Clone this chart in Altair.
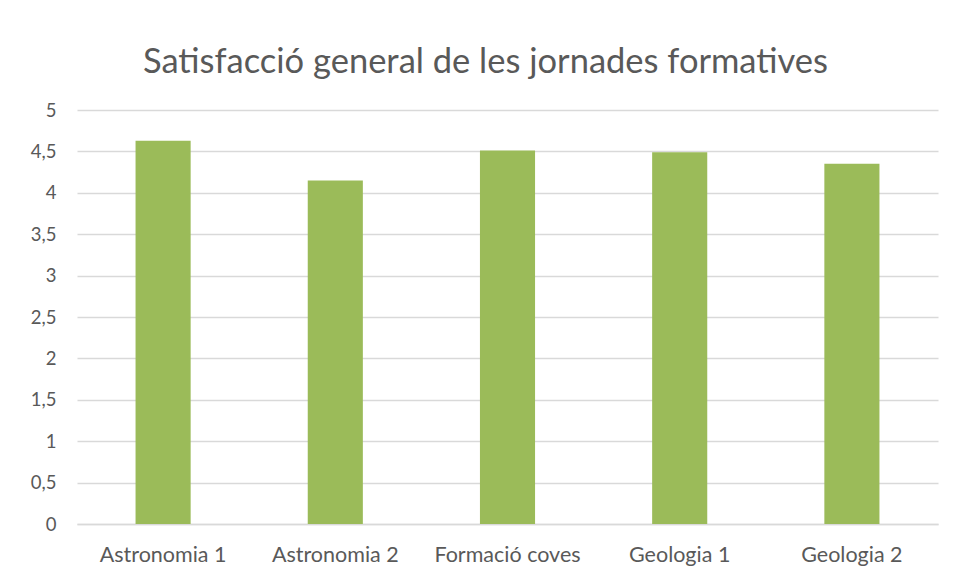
import altair as alt
import pandas as pd

categories = ["Astronomia 1", "Astronomia 2", "Formació coves", "Geologia 1", "Geologia 2"]
values = [4.63, 4.15, 4.51, 4.49, 4.35]

df = pd.DataFrame({"cat": categories, "val": values})

font = "Lato"
grey = "#595959"

chart = alt.Chart(df).mark_bar(color="#9BBB59").encode(
    x=alt.X("cat:N", sort=categories, title=None,
            scale=alt.Scale(paddingInner=0.68, paddingOuter=0.34),
            axis=alt.Axis(labelAngle=0, labelFont=font, labelFontSize=21.5, labelColor=grey,
                          labelPadding=20, ticks=False, domainColor="#d9d9d9", domainWidth=1.3,
                          grid=False)),
    y=alt.Y("val:Q", title=None,
            scale=alt.Scale(domain=[0, 5], nice=False),
            axis=alt.Axis(values=[0, 0.5, 1, 1.5, 2, 2.5, 3, 3.5, 4, 4.5, 5],
                          labelExpr="replace(format(datum.value, '.1~f'), '.', ',')",
                          labelFont=font, labelFontSize=18.5, labelColor=grey,
                          labelPadding=21, ticks=False, domain=False,
                          gridColor="#d9d9d9", gridWidth=1.3)),
).properties(
    width=861, height=414,
    title=alt.TitleParams("Satisfacció general de les jornades formatives",
                          font=font, fontSize=34.5, fontWeight="normal", color=grey,
                          anchor="middle", dx=-22, offset=21),
    autosize=alt.AutoSizeParams(type="none"),
    padding={"left": 69, "top": 102, "right": 10, "bottom": 47},
).configure_view(stroke=None)

chart.save("out.html", embed_options={"renderer": "svg", "actions": False})
